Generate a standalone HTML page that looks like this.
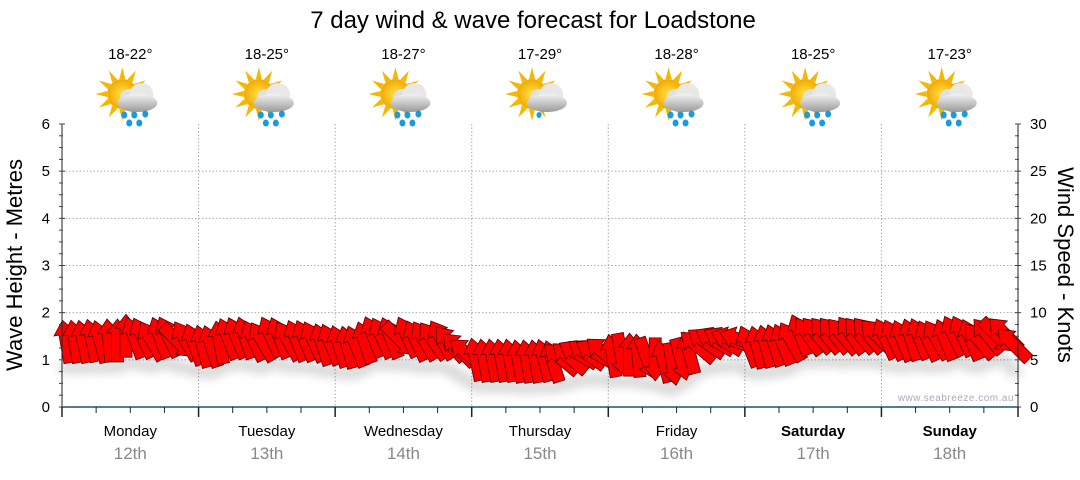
<!DOCTYPE html>
<html><head><meta charset="utf-8"><style>
body{margin:0;background:#fff;width:1080px;height:475px;overflow:hidden;font-family:"Liberation Sans",sans-serif}
svg text{font-family:"Liberation Sans",sans-serif}
</style></head><body>
<svg id="chart" width="1080" height="475" viewBox="0 0 1080 475" xmlns="http://www.w3.org/2000/svg">
<defs>
<filter id="sh" x="-50%" y="-50%" width="200%" height="200%"><feGaussianBlur stdDeviation="5"/></filter>
<radialGradient id="sun" cx="50%" cy="50%" r="50%"><stop offset="0" stop-color="#ffe24a"/><stop offset="1" stop-color="#f2a900"/></radialGradient>
<linearGradient id="cloud" x1="0" y1="0" x2="0" y2="1"><stop offset="0" stop-color="#f4f4f4"/><stop offset="1" stop-color="#9a9a9a"/></linearGradient>
</defs>
<text x="533" y="28" font-size="24" text-anchor="middle" fill="#000">7 day wind &amp; wave forecast for Loadstone</text>
<g id="grid"></g>
<g id="icons"></g>
<g id="shadow" filter="url(#sh)" opacity="0.16"></g>
<g id="arrows"></g>
<g id="axes"></g>
<text transform="translate(22,265) rotate(-90)" font-size="22" text-anchor="middle">Wave Height - Metres</text>
<text transform="translate(1058,265) rotate(90)" font-size="22" text-anchor="middle">Wind Speed - Knots</text>
<text x="1014" y="401" font-size="10" text-anchor="end" fill="#aab" letter-spacing="0.5">www.seabreeze.com.au</text>
</svg>
<script>
const days=["Monday","Tuesday","Wednesday","Thursday","Friday","Saturday","Sunday"];
const dates=["12th","13th","14th","15th","16th","17th","18th"];
const temps=["18-22°","18-25°","18-27°","17-29°","18-28°","18-25°","17-23°"];
const rainy=[true,true,true,false,true,true,true];
const windSpeed=[
6.9,6.9,6.9,7,6.9,7,7,7.5,7.3,7.3,7,7.3,7.4,7,7,6.6,
6.4,6.4,6.8,7.2,7.3,7.3,7,6.9,7.4,7.3,7,7,7,6.9,6.6,6.6,
6.4,6.3,6.4,6.8,7.4,7.3,7.3,7.2,7.4,7,7,7,7.1,6.7,6.1,5.6,
5,4.9,4.9,4.9,4.9,4.8,4.8,4.8,4.9,4.8,5.1,5.2,5.6,5.6,5.7,5.7,
5.4,5.6,5.5,5.4,5.2,5.1,4.8,4.6,5.1,5.7,6.4,6.8,7,7,7.1,7.1,
6.4,6.3,6.4,6.5,6.6,6.9,7.6,7.5,7.6,7.6,7.6,7.5,7.6,7.6,7.6,7.5,
7.2,7.1,7,7.1,7.2,7,7.1,7.1,7.5,7.5,7.1,7,7.5,7.6,7.7,6.6];
const windDir=[
-10,-10,-12,-12,-15,-5,0,0,-20,-25,-30,-20,-25,135,-30,-20,
-15,-18,-10,-22,-22,-18,-25,-30,-25,-22,-30,-22,-22,-25,-18,-22,
-18,-15,-22,-18,-22,-25,-22,135,-25,-25,-30,-35,-30,-40,-45,-50,
-12,-10,-10,-10,-10,-10,-10,-10,-15,-18,-50,-50,-60,-55,-60,-50,
-10,170,0,-5,160,180,-15,170,165,-15,-50,-55,-60,-60,-70,-70,
-22,-15,-15,-18,-22,-30,-22,-35,-40,-40,-40,-40,-35,-40,-40,-45,
-25,-25,-22,-18,-22,-25,-30,-22,-25,-25,-22,-40,-40,135,-45,-45];

const NS="http://www.w3.org/2000/svg";
const X0=62,X1=1018,Y0=407,YT=124;
const dayW=(X1-X0)/7;
const yM=v=>Y0-(v/6)*(Y0-YT);
const yK=v=>Y0-(v/30)*(Y0-YT);
const xI=i=>X0+(i+0.5)*(X1-X0)/windSpeed.length;
function mk(tag,attrs,parent){const e=document.createElementNS(NS,tag);for(const k in attrs)e.setAttribute(k,attrs[k]);parent.appendChild(e);return e;}
const grid=document.getElementById('grid'),axes=document.getElementById('axes'),icons=document.getElementById('icons');
for(let m=1;m<=5;m++){const l=mk('line',{x1:X0,x2:X1,y1:yM(m),y2:yM(m),stroke:'#aaa','stroke-dasharray':'1.5,2','stroke-width':1},grid);

}
for(let d=1;d<7;d++){const x=X0+d*dayW;const l=mk('line',{x1:x,x2:x,y1:YT,y2:Y0,stroke:'#aaa','stroke-dasharray':'1.5,2','stroke-width':1},grid);

}
mk('line',{x1:X0,x2:X0,y1:YT,y2:Y0,stroke:'#222'},axes);
mk('line',{x1:X1,x2:X1,y1:YT,y2:Y0,stroke:'#222'},axes);
mk('line',{x1:X0,x2:X1,y1:Y0,y2:Y0,stroke:'#1f4e79','stroke-width':1.5},axes);
for(let i=0;i<=24;i++){const y=Y0-i*(Y0-YT)/24;const len=i%4==0?6:4;
mk('line',{x1:X0-3,x2:X0-3+len,y1:y,y2:y,stroke:'#444'},axes);
mk('line',{x1:X1-3,x2:X1-3+len,y1:y,y2:y,stroke:'#444'},axes);}
for(let m=0;m<=6;m++){const t=mk('text',{x:X0-12,y:yM(m)+5,'font-size':15,'text-anchor':'end'},axes);t.textContent=m;

}
for(let k=0;k<=30;k+=5){const t=mk('text',{x:X1+12,y:yK(k)+5,'font-size':15},axes);t.textContent=k;

}
for(let i=0;i<=28;i++){const x=X0+i*dayW/4;const major=i%4==0;
mk('line',{x1:x,x2:x,y1:Y0,y2:Y0+(major?10:6),stroke:'#222','stroke-width':major?1.5:1},axes);}
days.forEach((d,i)=>{const cx=X0+(i+0.5)*dayW;
const t=mk('text',{x:cx,y:436,'font-size':15,'text-anchor':'middle','font-weight':i>=5?'bold':'normal'},axes);t.textContent=d;


const t2=mk('text',{x:cx,y:459,'font-size':17,'text-anchor':'middle',fill:'#888'},axes);t2.textContent=dates[i];


const t3=mk('text',{x:cx,y:59,'font-size':15,'text-anchor':'middle'},icons);t3.textContent=temps[i];


const g=mk('g',{transform:`translate(${cx-8},${94})`},icons);


for(let r=0;r<12;r++){const a=r*30;mk('polygon',{points:'-3,-15 3,-15 0,-27',fill:'#f5b800',transform:`rotate(${a})`},g);}
mk('circle',{cx:0,cy:0,r:15,fill:'url(#sun)'},g);
const cg=mk('g',{transform:'translate(15,5)'},g);
mk('circle',{cx:-8,cy:-1,r:9,fill:'#e0e0e0'},cg);
mk('circle',{cx:4,cy:-4,r:12,fill:'#e8e8e8'},cg);
mk('ellipse',{cx:0,cy:4,rx:20,ry:9,fill:'url(#cloud)'},cg);
if(rainy[i]){[[-13,16],[-3,16],[8,15],[-8,24],[2,24]].forEach(p=>mk('ellipse',{cx:p[0],cy:p[1],rx:3,ry:3.5,fill:'#1a9be0'},cg));}
else{mk('ellipse',{cx:-8,cy:16,rx:2.5,ry:3,fill:'#1a9be0'},cg);}
});
const A='0,-22 11,-8 6,-8 6,21 -6,21 -6,-8 -11,-8';
const arrows=document.getElementById('arrows'),shadow=document.getElementById('shadow');
windSpeed.forEach((v,i)=>{const x=xI(i),y=yK(v);
mk('ellipse',{cx:x,cy:y+26,rx:8,ry:6,fill:'#000'},shadow);
const p=mk('polygon',{points:A,transform:`translate(${x},${y}) rotate(${windDir[i]})`,fill:'#ff0000',stroke:'#5a0000','stroke-width':0.8},arrows);

});
</script>
</body></html>
